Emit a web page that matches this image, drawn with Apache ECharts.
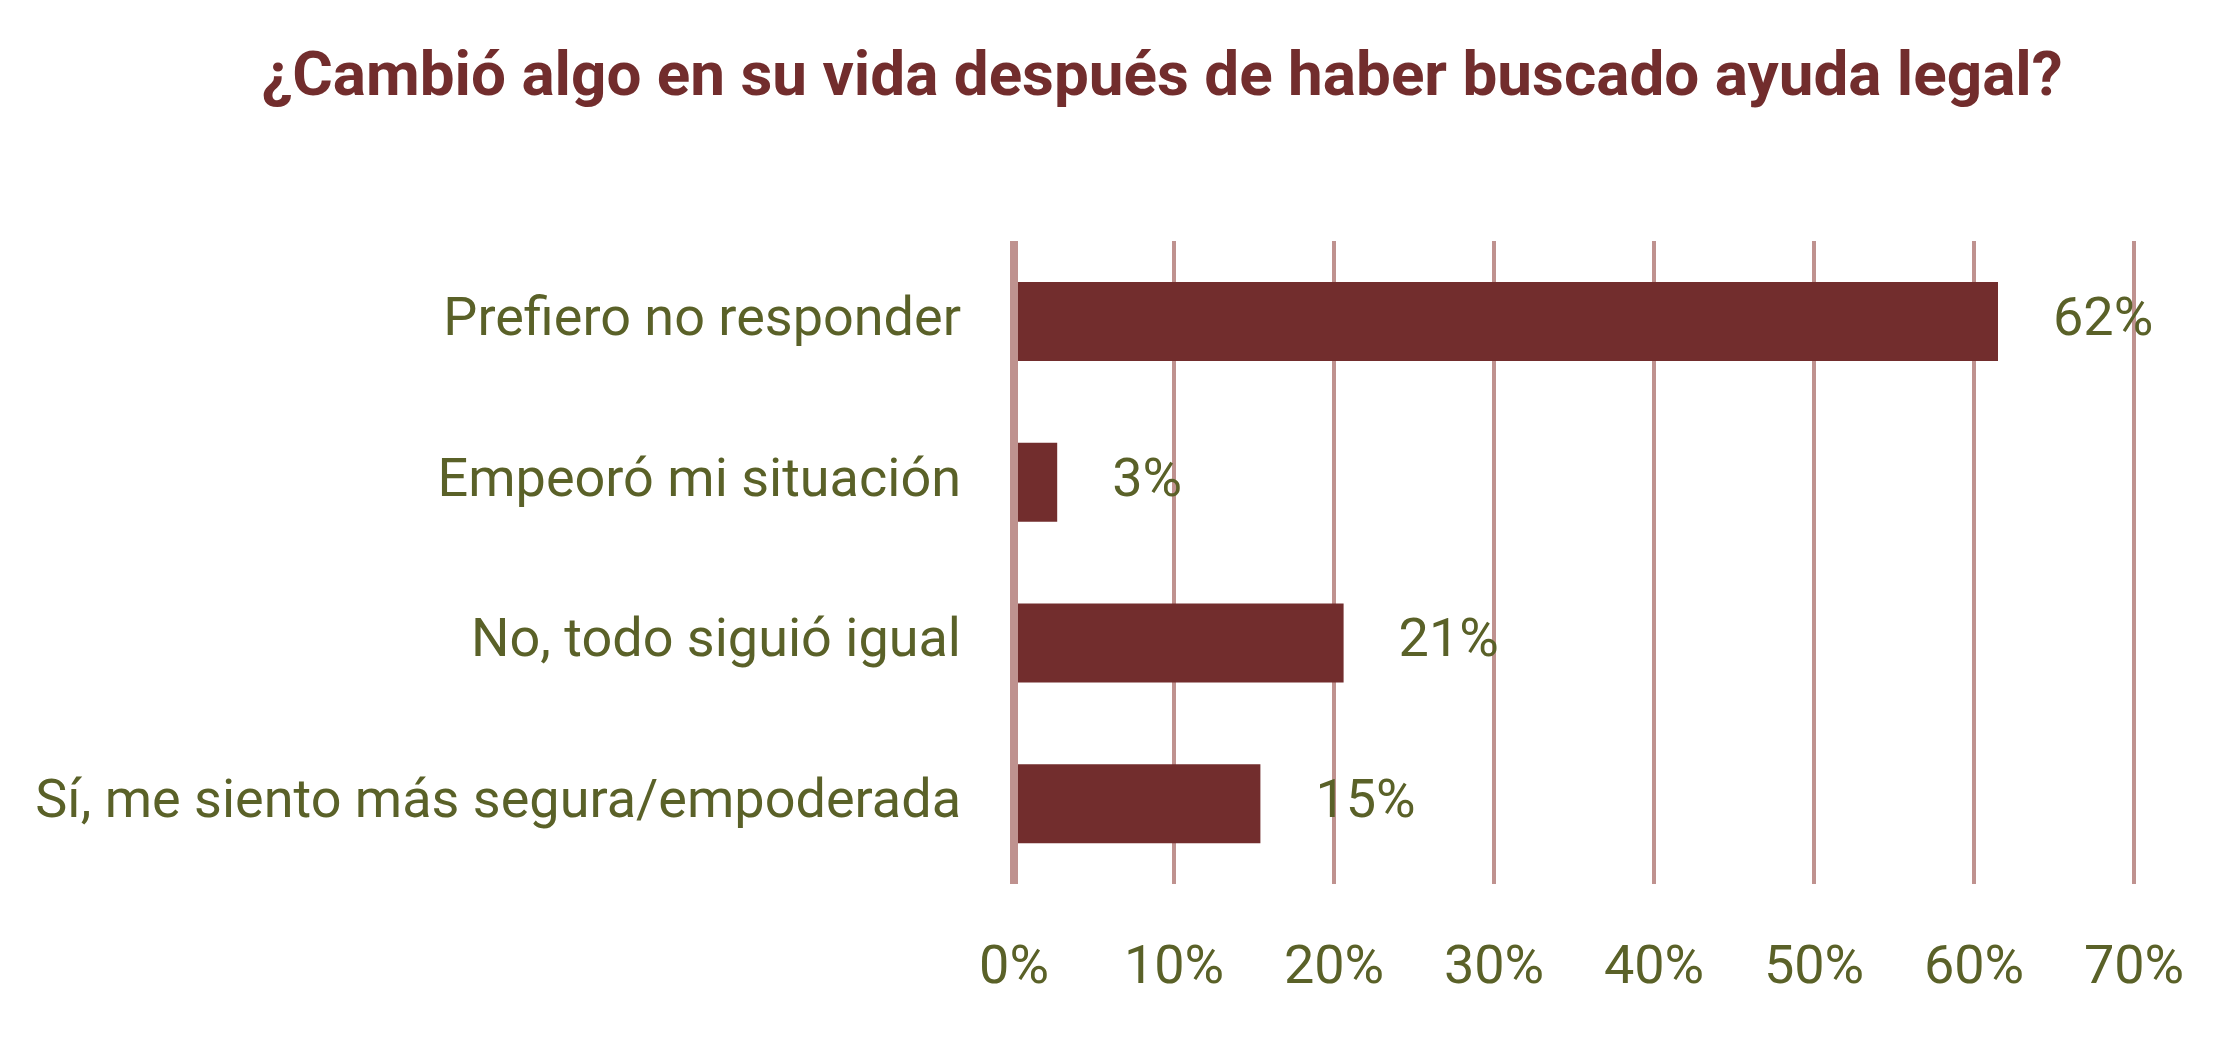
<!DOCTYPE html>
<html>
<head>
<meta charset="utf-8">
<title>¿Cambió algo en su vida?</title>
<script src="https://cdn.jsdelivr.net/npm/echarts@6/dist/echarts.min.js"></script>
<style>
    html, body { margin: 0; padding: 0; background: #fff; }
    #main { width: 2232px; height: 1042px; }
</style>
</head>
<body>
<div id="main"></div>
<script>
    // respuestas, de arriba hacia abajo
    var categories = ['Prefiero no responder', 'Empeoró mi situación', 'No, todo siguió igual', 'Sí, me siento más segura/empoderada'];
    var percents = [61.5, 2.7, 20.6, 15.4];
    var valueLabels = ['62%', '3%', '21%', '15%'];
    var xTicks = [0, 10, 20, 30, 40, 50, 60, 70];

    var olive = '#5a6128';
    var wine = '#722d2d';
    var rose = '#bf928f';

    var chart = echarts.init(document.getElementById('main'));
    window.addEventListener('resize', function () {
        chart.resize();
    });

    chart.setOption({
        animation: false,
        title: {
            text: '¿Cambió algo en su vida después de haber buscado ayuda legal?',
            left: 1157,
            top: 43,
            textAlign: 'center',
            textStyle: {
                fontFamily: 'Roboto',
                fontWeight: 'bold',
                fontSize: 62,
                color: wine
            }
        },
        grid: {
            left: 1014,
            right: 98,
            top: 241,
            bottom: 158
        },
        xAxis: {
            type: 'value',
            min: xTicks[0],
            max: xTicks[xTicks.length - 1],
            interval: 10,
            axisLine: { show: false },
            axisTick: { show: false },
            splitLine: {
                show: true,
                lineStyle: { color: rose, width: 4 }
            },
            axisLabel: {
                margin: 58,
                fontFamily: 'Roboto',
                fontSize: 54,
                color: olive,
                formatter: function (v) {
                    return v + '%';
                }
            }
        },
        yAxis: {
            type: 'category',
            inverse: true,
            data: categories,
            z: 3,
            axisLine: {
                show: true,
                lineStyle: { color: rose, width: 8, cap: 'butt' }
            },
            axisTick: { show: false },
            axisLabel: {
                margin: 53,
                fontFamily: 'Roboto',
                fontSize: 54,
                color: olive
            }
        },
        series: [
            {
                type: 'bar',
                data: percents,
                barWidth: 79,
                itemStyle: { color: wine },
                label: {
                    show: true,
                    position: 'right',
                    distance: 55,
                    fontFamily: 'Roboto',
                    fontSize: 54,
                    color: olive,
                    formatter: function (p) {
                        return valueLabels[p.dataIndex];
                    }
                }
            }
        ]
    });
</script>
</body>
</html>
